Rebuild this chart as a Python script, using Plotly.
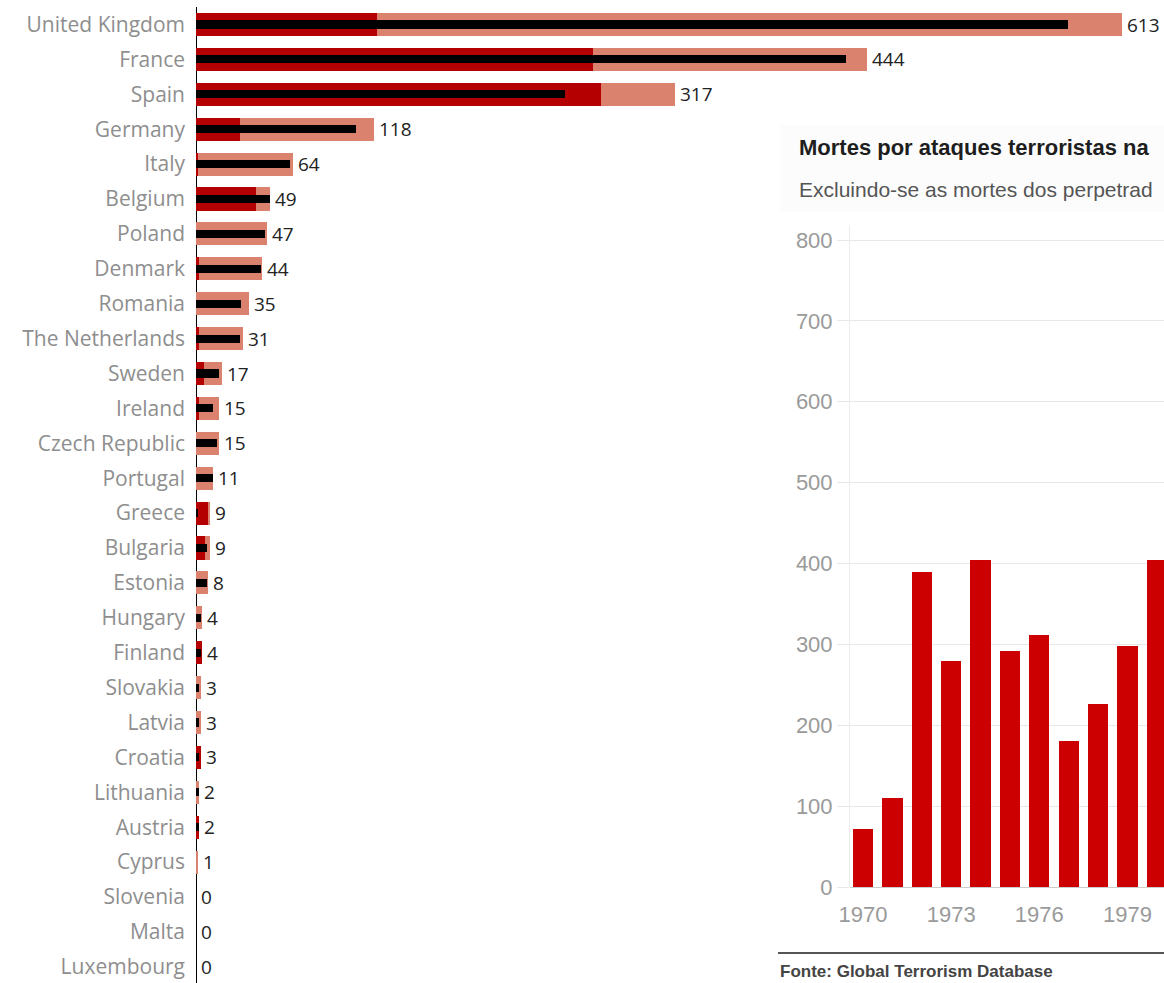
import plotly.graph_objects as go

# Country bar chart data
countries = ["United Kingdom", "France", "Spain", "Germany", "Italy", "Belgium",
             "Poland", "Denmark", "Romania", "The Netherlands", "Sweden", "Ireland",
             "Czech Republic", "Portugal", "Greece", "Bulgaria", "Estonia", "Hungary",
             "Finland", "Slovakia", "Latvia", "Croatia", "Lithuania", "Austria",
             "Cyprus", "Slovenia", "Malta", "Luxembourg"]
total_values = [613, 444, 317, 118, 64, 49, 47, 44, 35, 31, 17, 15, 15, 11, 9, 9, 8,
                4, 4, 3, 3, 3, 2, 2, 1, 0, 0, 0]
red_values = [120, 263, 268, 29, 1, 40, 0, 2, 0, 2, 5, 2, 0, 0, 8, 6, 0, 0, 4, 0, 0,
              3, 0, 2, 0, 0, 0, 0]
black_values = [577, 430, 244, 106, 62, 49, 46, 43, 30, 29, 15, 11, 14, 11, 1, 7, 7,
                3, 3, 2, 2, 2, 2, 2, 0, 0, 0, 0]

# Inset chart data
years = [1970, 1971, 1972, 1973, 1974, 1975, 1976, 1977, 1978, 1979, 1980]
yearly_deaths = [72, 110, 389, 279, 404, 292, 311, 180, 226, 298, 404]
year_ticks = [1970, 1973, 1976, 1979]
death_ticks = [0, 100, 200, 300, 400, 500, 600, 700, 800]

inset_title = "Mortes por ataques terroristas na"
inset_subtitle = "Excluindo-se as mortes dos perpetrad"
inset_source = "Fonte: Global Terrorism Database"

W, H = 1164, 983
ROW_TOP, ROW_STEP = 24.5, 34.9
SALMON = "#DA826E"
DARK_RED = "#B40000"
INSET_RED = "#CC0000"

fig = go.Figure()

fig.add_trace(go.Bar(y=countries, x=total_values, orientation="h", width=0.66,
                     marker=dict(color=SALMON, line=dict(width=0)),
                     xaxis="x", yaxis="y", hoverinfo="skip"))
fig.add_trace(go.Bar(y=countries, x=red_values, orientation="h", width=0.66,
                     marker=dict(color=DARK_RED, line=dict(width=0)),
                     xaxis="x", yaxis="y", hoverinfo="skip"))
fig.add_trace(go.Bar(y=countries, x=black_values, orientation="h", width=0.23,
                     marker=dict(color="#000000", line=dict(width=0)),
                     xaxis="x", yaxis="y", hoverinfo="skip"))

fig.add_trace(go.Bar(x=years, y=yearly_deaths, width=0.69,
                     marker=dict(color=INSET_RED, line=dict(width=0)),
                     xaxis="x2", yaxis="y2", hoverinfo="skip"))

annotations = []
for c, v in zip(countries, total_values):
    annotations.append(dict(x=v, y=c, xref="x", yref="y", text=str(v),
                            showarrow=False, xanchor="left", xshift=3,
                            font=dict(family="Open Sans", size=19, color="#222222")))

annotations += [
    dict(x=797 / W, y=1 - 147 / H, xref="paper", yref="paper", text="<b>" + inset_title + "</b>",
         showarrow=False, xanchor="left", yanchor="middle",
         font=dict(family="Liberation Sans", size=22, color="#1e1e1e")),
    dict(x=797 / W, y=1 - 190 / H, xref="paper", yref="paper", text=inset_subtitle,
         showarrow=False, xanchor="left", yanchor="middle",
         font=dict(family="Liberation Sans", size=21, color="#555555")),
    dict(x=778 / W, y=1 - 971 / H, xref="paper", yref="paper", text="<b>" + inset_source + "</b>",
         showarrow=False, xanchor="left", yanchor="middle",
         font=dict(family="Liberation Sans", size=17, color="#444444")),
]

shapes = [
    # faint header panel of the inset
    dict(type="rect", xref="paper", yref="paper", x0=780 / W, x1=1, y0=1 - 212 / H,
         y1=1 - 125 / H, fillcolor="#fcfcfc", line=dict(width=0), layer="below"),
    # vertical baseline of the country chart
    dict(type="line", xref="x", yref="y", x0=0, x1=0, y0=-0.5, y1=27.6,
         line=dict(color="#000000", width=2), layer="below"),
    # rule above the source note
    dict(type="line", xref="paper", yref="paper", x0=778 / W, x1=1, y0=1 - 953 / H,
         y1=1 - 953 / H, line=dict(color="#555555", width=2)),
]

px_per_unit = (1122 - 196) / 613
yr_step = (1127.5 - 863) / 9
dy_unit = (887 - 240) / 800

fig.update_layout(
    width=W, height=H,
    margin=dict(l=0, r=0, t=0, b=0, autoexpand=False),
    paper_bgcolor="white", plot_bgcolor="rgba(0,0,0,0)",
    barmode="overlay", showlegend=False,
    bargap=0,
    xaxis=dict(domain=[196 / W, 1], range=[0, (W - 196) / px_per_unit],
               showgrid=False, zeroline=False, showticklabels=False, showline=False),
    yaxis=dict(domain=[0, 1], type="category", categoryarray=countries,
               range=[(H - ROW_TOP) / ROW_STEP, -ROW_TOP / ROW_STEP], showgrid=False,
               zeroline=False, showline=False, ticks="", ticklabelstandoff=10,
               tickfont=dict(family="Open Sans", size=21, color="#8e8e8e")),
    xaxis2=dict(domain=[850 / W, 1], anchor="y2",
                range=[1970 - (863 - 850) / yr_step, 1970 + (W - 863) / yr_step],
                tickvals=year_ticks, ticks="", showgrid=False, zeroline=False,
                showline=False, ticklabelstandoff=12,
                tickfont=dict(family="Liberation Sans", size=22, color="#9a9a9a")),
    yaxis2=dict(domain=[(H - 887) / H, (H - 225) / H], anchor="x2",
                range=[0, (887 - 225) / dy_unit], tickvals=death_ticks,
                showgrid=True, gridcolor="#e8e8e8", gridwidth=1,
                zeroline=True, zerolinecolor="#cccccc", zerolinewidth=1,
                showline=True, linecolor="#ececec", linewidth=1,
                ticks="outside", ticklen=12, tickcolor="#e8e8e8",
                tickfont=dict(family="Liberation Sans", size=22, color="#9a9a9a")),
    annotations=annotations,
    shapes=shapes,
)

fig.write_html("out.html")
